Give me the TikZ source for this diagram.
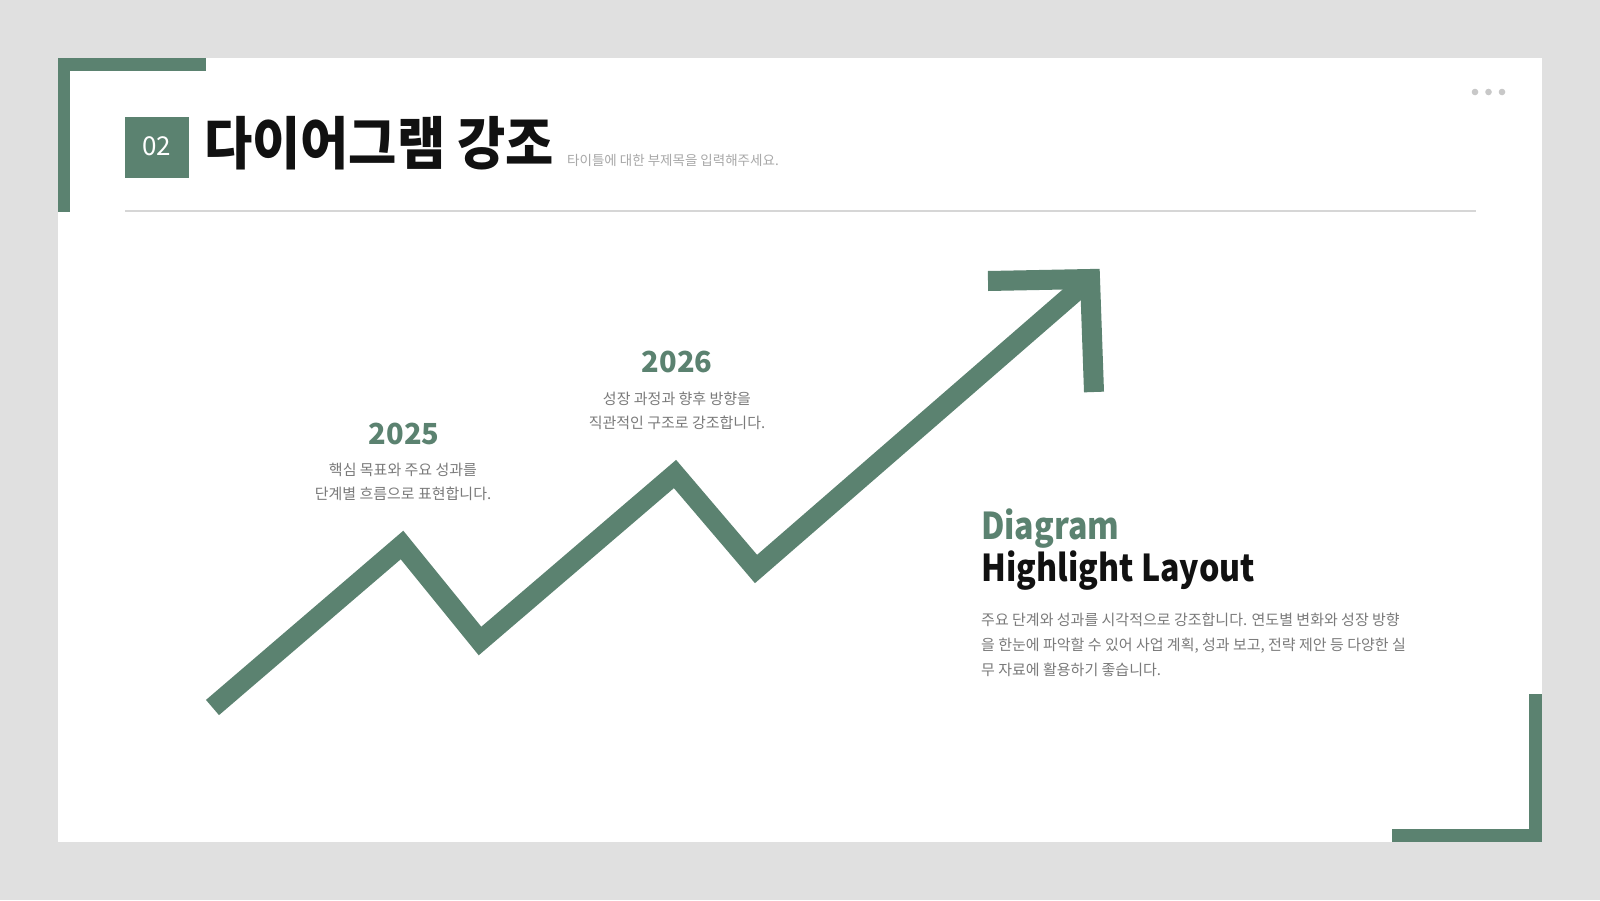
\documentclass[tikz,border=0pt]{standalone}
\usepackage{fontspec}
\setmainfont{Noto Sans CJK KR}
\definecolor{brand}{HTML}{5B8270}
\definecolor{bgray}{HTML}{E0E0E0}
\definecolor{bodygray}{HTML}{7A7A7A}
\definecolor{subgray}{HTML}{A8A8A8}
\definecolor{dotgray}{HTML}{C8C8C8}
\definecolor{rulegray}{HTML}{D6D6D6}
\definecolor{ink}{HTML}{111111}
\tikzset{
  year/.style={font=\fontsize{29}{34}\selectfont\bfseries, text=brand, anchor=base, inner sep=0pt},
  small/.style={font=\fontsize{15}{18}\selectfont, text=bodygray, anchor=base, inner sep=0pt},
  body/.style={font=\fontsize{15}{18}\selectfont, text=bodygray, anchor=base west, inner sep=0pt},
  head/.style={anchor=base west, inner sep=0pt, font=\fontsize{37}{40}\selectfont\bfseries, xscale=0.87},
  zig/.style={draw=brand, line width=20pt, line join=miter, miter limit=10, line cap=butt},
  corner/.style={fill=brand, draw=none},
  dotmark/.style={circle, fill=dotgray, minimum size=6.6pt, inner sep=0pt}
}
\begin{document}
\begin{tikzpicture}[x=1pt, y=-1pt]
\useasboundingbox (0,0) rectangle (1600,900);
\fill[bgray] (0,0) rectangle (1600,900);
\fill[white] (57.5,57.5) rectangle (1542,842);
% corner brackets
\fill[corner] (57.5,57.5) rectangle (205.5,70.5);
\fill[corner] (57.5,57.5) rectangle (70,212);
\fill[corner] (1528.5,694) rectangle (1542,842);
\fill[corner] (1391.5,828.5) rectangle (1542,842);
% header
\fill[brand] (125,117) rectangle (189,178);
\node[font=\fontsize{26}{30}\selectfont, text=white, inner sep=0pt] (num) at (156.5,146) {02};
\node[anchor=base west, inner sep=0pt, text=ink, font=\fontsize{57}{64}\selectfont\bfseries, xscale=0.92] (title) at (204,164) {다이어그램 강조};
\node[anchor=base west, inner sep=0pt, text=subgray, font=\fontsize{13.5}{16}\selectfont] (subtitle) at (567,165.5) {타이틀에 대한 부제목을 입력해주세요.};
\coordinate (ruleL) at (125,211);
\coordinate (ruleR) at (1476,211);
\draw[rulegray, line width=1.3pt] (ruleL) -- (ruleR);
\node[dotmark] (d1) at (1475,92) {};
\node[dotmark] (d2) at (1488.5,92) {};
\node[dotmark] (d3) at (1502,92) {};
% zigzag arrow
\coordinate (p0) at (212.5,707.5);
\coordinate (p1) at (402,545);
\coordinate (p2) at (480,641);
\coordinate (p3) at (675,474);
\coordinate (p4) at (756,569);
\coordinate (tip) at (1090,279);
\coordinate (armA) at (988,281);
\coordinate (armB) at (1094,392);
\draw[zig] (p0) -- (p1) -- (p2) -- (p3) -- (p4) -- (tip);
\draw[zig] (armA) -- (tip) -- (armB);
% labels
\node[year] (y25) at (404,444) {2025};
\node[small] (t25a) at (403,475) {핵심 목표와 주요 성과를};
\node[small] (t25b) at (403,499) {단계별 흐름으로 표현합니다.};
\node[year] (y26) at (677,372.5) {2026};
\node[small] (t26a) at (677,404) {성장 과정과 향후 방향을};
\node[small] (t26b) at (677,428.5) {직관적인 구조로 강조합니다.};
% right column
\node[head, text=brand] (h1) at (981,539) {Diagram};
\node[head, text=ink] (h2) at (981,581) {Highlight Layout};
\node[body] (b1) at (981,625) {주요 단계와 성과를 시각적으로 강조합니다. 연도별 변화와 성장 방향};
\node[body] (b2) at (981,650) {을 한눈에 파악할 수 있어 사업 계획, 성과 보고, 전략 제안 등 다양한 실};
\node[body] (b3) at (981,675) {무 자료에 활용하기 좋습니다.};
\end{tikzpicture}
\end{document}
